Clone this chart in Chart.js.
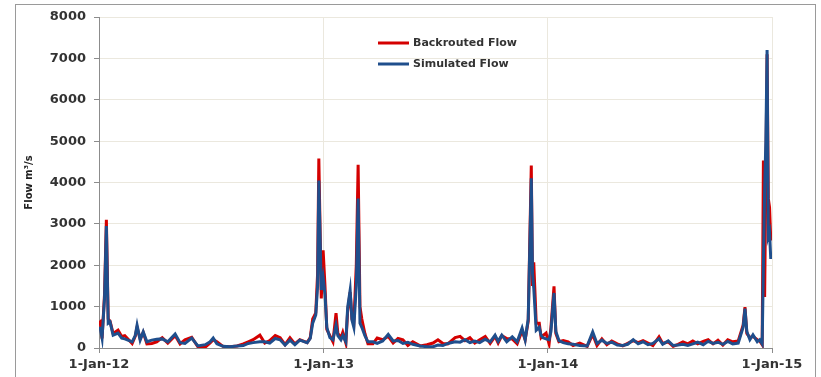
<!DOCTYPE html>
<html>
<head>
<meta charset="utf-8">
<script src="https://cdn.jsdelivr.net/npm/chart.js@4.4.0/dist/chart.umd.min.js"></script>
<style>
    body { margin: 0; background: #fff; }
    canvas { display: block; }
</style>
</head>
<body>
<canvas id="flow-chart" width="821" height="377"></canvas>
<script>
// days since 1-Jan-2012
const days = [
    0, 2, 5, 9, 12, 15, 18, 23, 31, 37, 42, 54, 59, 62, 67, 72, 78, 86, 94, 103,
    112, 124, 132, 140, 151, 161, 173, 181, 186, 192, 202, 213, 225, 235, 243, 251, 262, 270, 278, 287,
    295, 303, 311, 319, 327, 339, 344, 348, 353, 356, 358, 362, 365, 368, 371, 376, 381, 386, 389, 394,
    397, 402, 405, 409, 412, 415, 419, 422, 425, 428, 433, 438, 446, 453, 462, 471, 479, 487, 495, 503,
    511, 523, 534, 544, 552, 560, 568, 580, 588, 596, 604, 612, 620, 629, 637, 645, 650, 656, 664, 673,
    681, 689, 694, 699, 704, 706, 708, 712, 717, 720, 723, 728, 733, 736, 741, 744, 749, 756, 764, 772,
    783, 795, 804, 811, 819, 827, 835, 844, 853, 861, 870, 878, 886, 894, 902, 912, 918, 927, 935, 943,
    951, 959, 967, 975, 984, 992, 1000, 1008, 1016, 1024, 1032, 1041, 1049, 1052, 1055, 1060, 1065, 1072, 1076, 1080,
    1082, 1084, 1086, 1088, 1090, 1092, 1094
];

const backrouted = [
    600, 630, 230, 1300, 3100, 700, 650, 350, 430, 280, 300, 110, 280, 500, 220, 380, 100, 110, 150, 250,
    120, 300, 100, 200, 260, 30, 20, 120, 200, 150, 40, 30, 50, 100, 150, 200, 310, 120, 180, 300,
    250, 80, 250, 100, 200, 130, 250, 700, 850, 1800, 4580, 1200, 2360, 1500, 450, 300, 150, 840, 350, 250,
    380, 120, 900, 1350, 700, 600, 2000, 4430, 1000, 700, 350, 100, 100, 240, 200, 280, 120, 230, 200, 60,
    150, 50, 80, 120, 200, 110, 100, 250, 280, 180, 250, 120, 200, 280, 110, 280, 120, 300, 230, 220,
    100, 420, 200, 650, 4410, 1500, 2070, 600, 600, 250, 300, 360, 100, 500, 1490, 350, 150, 180, 150, 60,
    120, 40, 330, 60, 220, 80, 170, 100, 50, 110, 180, 130, 180, 120, 60, 270, 110, 150, 40, 90,
    150, 100, 170, 100, 160, 200, 100, 190, 70, 200, 150, 170, 550, 990, 350, 250, 280, 200, 170, 80,
    4530, 1230, 4200, 7100, 3610, 3400, 2600
];

const simulated = [
    480, 480, 240, 1200, 2950, 600, 630, 310, 360, 240, 220, 150, 300, 550, 190, 390, 150, 190, 210, 220,
    150, 340, 130, 110, 240, 50, 80, 150, 240, 100, 40, 30, 50, 60, 110, 130, 150, 150, 120, 230,
    200, 70, 190, 80, 190, 130, 230, 600, 800, 1500, 4050, 1400, 1700, 1300, 500, 250, 200, 550, 300, 200,
    300, 150, 990, 1400, 670, 500, 1500, 3610, 600, 500, 300, 150, 150, 110, 170, 330, 170, 180, 110, 140,
    90, 50, 30, 30, 70, 60, 110, 150, 140, 200, 130, 170, 130, 210, 150, 310, 160, 310, 150, 270,
    150, 480, 200, 700, 4100, 1800, 1450, 430, 500, 300, 250, 220, 200, 400, 1330, 400, 180, 130, 100, 90,
    60, 50, 390, 110, 190, 110, 140, 70, 60, 90, 200, 100, 150, 80, 110, 220, 90, 170, 60, 70,
    90, 60, 100, 140, 80, 160, 110, 140, 90, 160, 100, 120, 500, 950, 400, 200, 320, 150, 200, 100,
    2000, 3800, 5000, 7200, 2700, 2800, 2150
];

const xTickDays = [0, 366, 731, 1096];
const xTickLabels = ['1-Jan-12', '1-Jan-13', '1-Jan-14', '1-Jan-15'];

const gridColor = '#ebe8de';
const axisColor = '#8c8c8c';
const textColor = '#333333';
const boldFont = {family: 'DejaVu Sans', size: 13, weight: 'bold'};

// легенда внутри области графика
const innerLegend = {
    id: 'innerLegend',
    afterDraw(chart) {
        const ctx = chart.ctx;
        const area = chart.chartArea;
        const x0 = area.left + 279;
        const y0 = 43;
        ctx.save();
        ctx.font = 'bold 11px "DejaVu Sans"';
        ctx.textBaseline = 'middle';
        chart.data.datasets.forEach((ds, i) => {
            const y = y0 + i * 21;
            ctx.strokeStyle = ds.borderColor;
            ctx.lineWidth = 3;
            ctx.beginPath();
            ctx.moveTo(x0, y);
            ctx.lineTo(x0 + 31, y);
            ctx.stroke();
            ctx.fillStyle = textColor;
            ctx.fillText(ds.label, x0 + 35, y);
        });
        ctx.restore();
    }
};

const outerFrame = {
    id: 'outerFrame',
    beforeDraw(chart) {
        const ctx = chart.ctx;
        ctx.save();
        ctx.fillStyle = '#fff';
        ctx.fillRect(0, 0, chart.width, chart.height);
        ctx.strokeStyle = '#9a9a9a';
        ctx.lineWidth = 1;
        ctx.strokeRect(15.5, 4.5, 800, 400);
        ctx.restore();
    }
};

const toPoints = (values) => days.map((d, i) => ({x: d, y: values[i]}));

new Chart(document.getElementById('flow-chart'), {
    type: 'line',
    data: {
        datasets: [
            {
                label: 'Backrouted Flow',
                data: toPoints(backrouted),
                borderColor: '#d40000',
                borderWidth: 3,
                pointRadius: 0,
                tension: 0,
                order: 1,
            },
            {
                label: 'Simulated Flow',
                data: toPoints(simulated),
                borderColor: '#1f4e8c',
                borderWidth: 3,
                pointRadius: 0,
                tension: 0,
                order: 0,
            },
        ]
    },
    options: {
        responsive: false,
        animation: false,
        layout: {padding: {left: 19, right: 49, top: 17, bottom: 0}},
        scales: {
            x: {
                type: 'linear',
                min: 0,
                max: 1096,
                afterBuildTicks: (scale) => {
                    scale.ticks = xTickDays.map(v => ({value: v}));
                },
                afterFit: (scale) => {
                    scale.height = 29;
                },
                ticks: {
                    callback: (v) => xTickLabels[xTickDays.indexOf(v)],
                    font: boldFont,
                    color: textColor,
                    padding: 4,
                    maxRotation: 0,
                    autoSkip: false,
                },
                grid: {color: gridColor, tickColor: axisColor, tickLength: 5},
                border: {color: axisColor},
            },
            y: {
                min: 0,
                max: 8000,
                afterFit: (scale) => {
                    scale.width = 80;
                },
                ticks: {
                    stepSize: 1000,
                    callback: (v) => String(v),
                    font: boldFont,
                    color: textColor,
                    padding: 8,
                },
                title: {
                    display: true,
                    text: 'Flow m³/s',
                    font: {family: 'DejaVu Sans', size: 10, weight: 'bold'},
                    color: '#222',
                },
                grid: {color: gridColor, tickColor: axisColor, tickLength: 5},
                border: {color: axisColor},
            }
        },
        plugins: {
            legend: {display: false},
            tooltip: {enabled: false},
        },
    },
    plugins: [outerFrame, innerLegend],
});
</script>
</body>
</html>
